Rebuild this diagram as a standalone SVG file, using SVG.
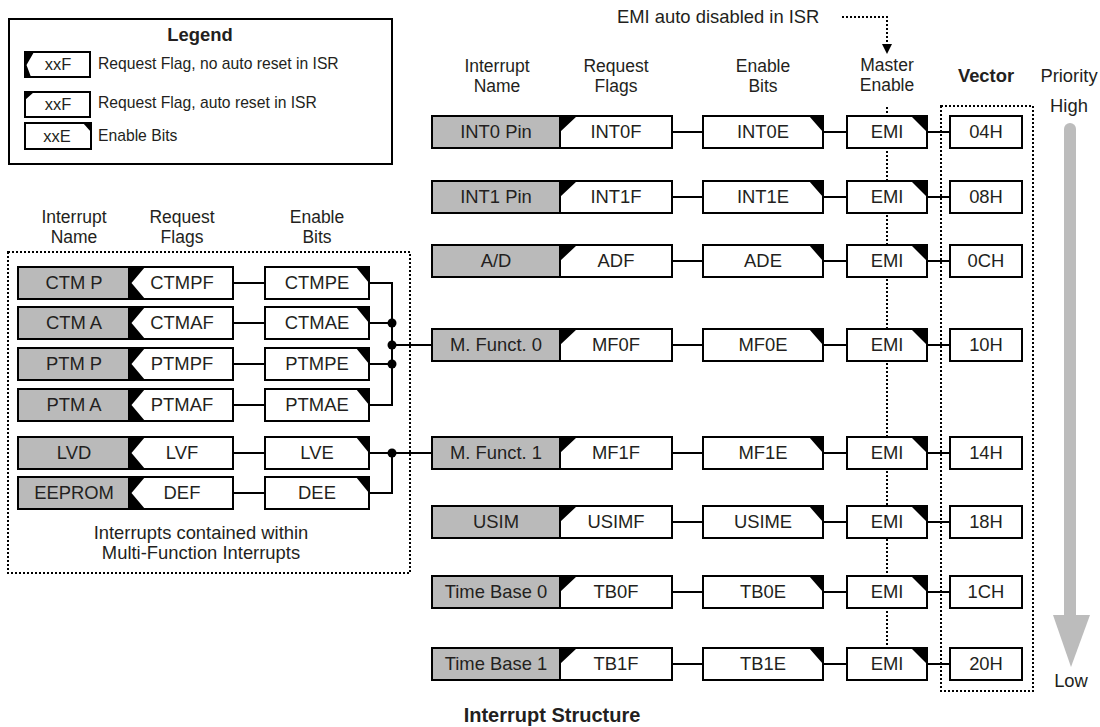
<svg xmlns="http://www.w3.org/2000/svg" width="1100" height="727" viewBox="0 0 1100 727">
<style>
.t{font-family:"Liberation Sans",Arial,sans-serif;font-size:18.4px;fill:#231f20;text-anchor:middle}
.h{font-size:17.5px}
.b{font-weight:bold}
.lg{font-size:15.7px;text-anchor:start}
.lb{font-size:16.5px}
.nm{fill:#bababa;stroke:#000;stroke-width:2}
.bx{fill:#fff;stroke:#000;stroke-width:2}
.k{fill:#000}
.ln{fill:none;stroke:#000;stroke-width:2}
.dt{fill:none;stroke:#000;stroke-width:2;stroke-dasharray:2 2}
.jn{fill:#000}
</style>
<rect width="1100" height="727" fill="#fff"/>

<!-- Legend -->
<g id="legend">
<rect x="9" y="19" width="383" height="145" class="bx"/>
<text x="200" y="41" class="t b">Legend</text>
<rect x="25" y="52" width="65" height="25" class="bx"/>
<polygon points="25,52 34,52 26.5,65 31,77 25,77" class="k"/>
<text x="58" y="70" class="t lb">xxF</text>
<text x="98" y="69" class="t lg">Request Flag, no auto reset in ISR</text>
<rect x="25" y="92" width="65" height="25" class="bx"/>
<polygon points="25,92 34,92 25,100" class="k"/>
<text x="58" y="110" class="t lb">xxF</text>
<text x="98" y="108" class="t lg">Request Flag, auto reset in ISR</text>
<rect x="25" y="123" width="66" height="26" class="bx"/>
<polygon points="83,123 91,123 91,132" class="k"/>
<text x="57" y="142" class="t lb">xxE</text>
<text x="98" y="141" class="t lg">Enable Bits</text>
</g>

<!-- Headers -->
<g id="headers">
<text x="74" y="223" class="t h">Interrupt</text><text x="74" y="243" class="t h">Name</text>
<text x="182" y="223" class="t h">Request</text><text x="182" y="243" class="t h">Flags</text>
<text x="317" y="223" class="t h">Enable</text><text x="317" y="243" class="t h">Bits</text>
<text x="497" y="72" class="t h">Interrupt</text><text x="497" y="92" class="t h">Name</text>
<text x="616" y="72" class="t h">Request</text><text x="616" y="92" class="t h">Flags</text>
<text x="763" y="72" class="t h">Enable</text><text x="763" y="92" class="t h">Bits</text>
<text x="887" y="71" class="t h">Master</text><text x="887" y="91" class="t h">Enable</text>
<text x="986" y="82" class="t b">Vector</text>
<text x="1069" y="82" class="t">Priority</text>
<text x="1069" y="112" class="t">High</text>
<text x="1071" y="687" class="t">Low</text>
<text x="617" y="23" class="t" style="text-anchor:start">EMI auto disabled in ISR</text>
<text x="201" y="539" class="t">Interrupts contained within</text>
<text x="201" y="559" class="t">Multi-Function Interrupts</text>
<text x="552" y="722" class="t b" style="font-size:20px">Interrupt Structure</text>
</g>

<!-- Dotted frames and priority arrow -->
<g id="frames">
<rect x="8" y="252" width="402" height="321" class="dt"/>
<rect x="941" y="106" width="92" height="585" class="dt"/>
<line x1="887" y1="107" x2="887" y2="648" class="dt"/>
<path d="M842,17 H887 V45" class="dt"/>
<polygon points="882,44 892,44 887,54" class="k"/>
<line x1="1070" y1="129" x2="1070" y2="616" stroke="#bcbcbc" stroke-width="12" stroke-linecap="round"/>
<polygon points="1053,615 1090,615 1071,667" fill="#bcbcbc"/>
</g>

<!-- Connectors -->
<g id="connectors">
<path d="M233,283 H265 M233,323 H265 M233,364 H265 M233,405 H265 M233,453 H265 M233,493 H265" class="ln"/>
<path d="M369,283 H392 V405 H369 M369,323 H392 M369,364 H392 M392,345 H432" class="ln"/>
<path d="M369,453 H432 M392,453 V493 H369" class="ln"/>
<circle cx="392" cy="323" r="4.5" class="jn"/>
<circle cx="392" cy="345" r="4.5" class="jn"/>
<circle cx="392" cy="364" r="4.5" class="jn"/>
<circle cx="392" cy="453" r="4.5" class="jn"/>
<path d="M672,132 H703 M823,132 H847 M927,132 H950
M672,197 H703 M823,197 H847 M927,197 H950
M672,261 H703 M823,261 H847 M927,261 H950
M672,345 H703 M823,345 H847 M927,345 H950
M672,453 H703 M823,453 H847 M927,453 H950
M672,522 H703 M823,522 H847 M927,522 H950
M672,592 H703 M823,592 H847 M927,592 H950
M672,664 H703 M823,664 H847 M927,664 H950" class="ln"/>
</g>

<!-- Left block nodes -->
<g id="ctmp">
<rect x="18" y="267" width="111" height="32" class="nm"/><text x="74" y="289" class="t">CTM P</text>
<rect x="129" y="267" width="104" height="32" class="bx"/><polygon points="129,267 145,267 131.5,283 145,299 129,299" class="k"/><text x="182" y="289" class="t">CTMPF</text>
<rect x="265" y="267" width="104" height="32" class="bx"/><polygon points="356,267 369,267 369,283" class="k"/><text x="317" y="289" class="t">CTMPE</text>
</g>
<g id="ctma">
<rect x="18" y="307" width="111" height="32" class="nm"/><text x="74" y="329" class="t">CTM A</text>
<rect x="129" y="307" width="104" height="32" class="bx"/><polygon points="129,307 145,307 131.5,323 145,339 129,339" class="k"/><text x="182" y="329" class="t">CTMAF</text>
<rect x="265" y="307" width="104" height="32" class="bx"/><polygon points="356,307 369,307 369,323" class="k"/><text x="317" y="329" class="t">CTMAE</text>
</g>
<g id="ptmp">
<rect x="18" y="348" width="111" height="32" class="nm"/><text x="74" y="370" class="t">PTM P</text>
<rect x="129" y="348" width="104" height="32" class="bx"/><polygon points="129,348 145,348 131.5,364 145,380 129,380" class="k"/><text x="182" y="370" class="t">PTMPF</text>
<rect x="265" y="348" width="104" height="32" class="bx"/><polygon points="356,348 369,348 369,364" class="k"/><text x="317" y="370" class="t">PTMPE</text>
</g>
<g id="ptma">
<rect x="18" y="389" width="111" height="32" class="nm"/><text x="74" y="411" class="t">PTM A</text>
<rect x="129" y="389" width="104" height="32" class="bx"/><polygon points="129,389 145,389 131.5,405 145,421 129,421" class="k"/><text x="182" y="411" class="t">PTMAF</text>
<rect x="265" y="389" width="104" height="32" class="bx"/><polygon points="356,389 369,389 369,405" class="k"/><text x="317" y="411" class="t">PTMAE</text>
</g>
<g id="lvd">
<rect x="18" y="437" width="111" height="32" class="nm"/><text x="74" y="459" class="t">LVD</text>
<rect x="129" y="437" width="104" height="32" class="bx"/><polygon points="129,437 145,437 131.5,453 145,469 129,469" class="k"/><text x="182" y="459" class="t">LVF</text>
<rect x="265" y="437" width="104" height="32" class="bx"/><polygon points="356,437 369,437 369,453" class="k"/><text x="317" y="459" class="t">LVE</text>
</g>
<g id="eeprom">
<rect x="18" y="477" width="111" height="32" class="nm"/><text x="74" y="499" class="t">EEPROM</text>
<rect x="129" y="477" width="104" height="32" class="bx"/><polygon points="129,477 145,477 131.5,493 145,509 129,509" class="k"/><text x="182" y="499" class="t">DEF</text>
<rect x="265" y="477" width="104" height="32" class="bx"/><polygon points="356,477 369,477 369,493" class="k"/><text x="317" y="499" class="t">DEE</text>
</g>

<!-- Right block nodes -->
<g id="int0">
<rect x="432" y="116" width="128" height="32" class="nm"/><text x="496" y="138" class="t">INT0 Pin</text>
<rect x="560" y="116" width="112" height="32" class="bx"/><polygon points="560,116 577,116 560,132" class="k"/><text x="616" y="138" class="t">INT0F</text>
<rect x="703" y="116" width="120" height="32" class="bx"/><polygon points="809,116 823,116 823,132" class="k"/><text x="763" y="138" class="t">INT0E</text>
<rect x="847" y="116" width="80" height="32" class="bx"/><polygon points="911,116 927,116 927,132" class="k"/><text x="887" y="138" class="t">EMI</text>
<rect x="950" y="116" width="72" height="32" class="bx"/><text x="986" y="138" class="t">04H</text>
</g>
<g id="int1">
<rect x="432" y="181" width="128" height="32" class="nm"/><text x="496" y="203" class="t">INT1 Pin</text>
<rect x="560" y="181" width="112" height="32" class="bx"/><polygon points="560,181 577,181 560,197" class="k"/><text x="616" y="203" class="t">INT1F</text>
<rect x="703" y="181" width="120" height="32" class="bx"/><polygon points="809,181 823,181 823,197" class="k"/><text x="763" y="203" class="t">INT1E</text>
<rect x="847" y="181" width="80" height="32" class="bx"/><polygon points="911,181 927,181 927,197" class="k"/><text x="887" y="203" class="t">EMI</text>
<rect x="950" y="181" width="72" height="32" class="bx"/><text x="986" y="203" class="t">08H</text>
</g>
<g id="ad">
<rect x="432" y="245" width="128" height="32" class="nm"/><text x="496" y="267" class="t">A/D</text>
<rect x="560" y="245" width="112" height="32" class="bx"/><polygon points="560,245 577,245 560,261" class="k"/><text x="616" y="267" class="t">ADF</text>
<rect x="703" y="245" width="120" height="32" class="bx"/><polygon points="809,245 823,245 823,261" class="k"/><text x="763" y="267" class="t">ADE</text>
<rect x="847" y="245" width="80" height="32" class="bx"/><polygon points="911,245 927,245 927,261" class="k"/><text x="887" y="267" class="t">EMI</text>
<rect x="950" y="245" width="72" height="32" class="bx"/><text x="986" y="267" class="t">0CH</text>
</g>
<g id="mf0">
<rect x="432" y="329" width="128" height="32" class="nm"/><text x="496" y="351" class="t">M. Funct. 0</text>
<rect x="560" y="329" width="112" height="32" class="bx"/><polygon points="560,329 577,329 560,345" class="k"/><text x="616" y="351" class="t">MF0F</text>
<rect x="703" y="329" width="120" height="32" class="bx"/><polygon points="809,329 823,329 823,345" class="k"/><text x="763" y="351" class="t">MF0E</text>
<rect x="847" y="329" width="80" height="32" class="bx"/><polygon points="911,329 927,329 927,345" class="k"/><text x="887" y="351" class="t">EMI</text>
<rect x="950" y="329" width="72" height="32" class="bx"/><text x="986" y="351" class="t">10H</text>
</g>
<g id="mf1">
<rect x="432" y="437" width="128" height="32" class="nm"/><text x="496" y="459" class="t">M. Funct. 1</text>
<rect x="560" y="437" width="112" height="32" class="bx"/><polygon points="560,437 577,437 560,453" class="k"/><text x="616" y="459" class="t">MF1F</text>
<rect x="703" y="437" width="120" height="32" class="bx"/><polygon points="809,437 823,437 823,453" class="k"/><text x="763" y="459" class="t">MF1E</text>
<rect x="847" y="437" width="80" height="32" class="bx"/><polygon points="911,437 927,437 927,453" class="k"/><text x="887" y="459" class="t">EMI</text>
<rect x="950" y="437" width="72" height="32" class="bx"/><text x="986" y="459" class="t">14H</text>
</g>
<g id="usim">
<rect x="432" y="506" width="128" height="32" class="nm"/><text x="496" y="528" class="t">USIM</text>
<rect x="560" y="506" width="112" height="32" class="bx"/><polygon points="560,506 577,506 560,522" class="k"/><text x="616" y="528" class="t">USIMF</text>
<rect x="703" y="506" width="120" height="32" class="bx"/><polygon points="809,506 823,506 823,522" class="k"/><text x="763" y="528" class="t">USIME</text>
<rect x="847" y="506" width="80" height="32" class="bx"/><polygon points="911,506 927,506 927,522" class="k"/><text x="887" y="528" class="t">EMI</text>
<rect x="950" y="506" width="72" height="32" class="bx"/><text x="986" y="528" class="t">18H</text>
</g>
<g id="tb0">
<rect x="432" y="576" width="128" height="32" class="nm"/><text x="496" y="598" class="t">Time Base 0</text>
<rect x="560" y="576" width="112" height="32" class="bx"/><polygon points="560,576 577,576 560,592" class="k"/><text x="616" y="598" class="t">TB0F</text>
<rect x="703" y="576" width="120" height="32" class="bx"/><polygon points="809,576 823,576 823,592" class="k"/><text x="763" y="598" class="t">TB0E</text>
<rect x="847" y="576" width="80" height="32" class="bx"/><polygon points="911,576 927,576 927,592" class="k"/><text x="887" y="598" class="t">EMI</text>
<rect x="950" y="576" width="72" height="32" class="bx"/><text x="986" y="598" class="t">1CH</text>
</g>
<g id="tb1">
<rect x="432" y="648" width="128" height="32" class="nm"/><text x="496" y="670" class="t">Time Base 1</text>
<rect x="560" y="648" width="112" height="32" class="bx"/><polygon points="560,648 577,648 560,664" class="k"/><text x="616" y="670" class="t">TB1F</text>
<rect x="703" y="648" width="120" height="32" class="bx"/><polygon points="809,648 823,648 823,664" class="k"/><text x="763" y="670" class="t">TB1E</text>
<rect x="847" y="648" width="80" height="32" class="bx"/><polygon points="911,648 927,648 927,664" class="k"/><text x="887" y="670" class="t">EMI</text>
<rect x="950" y="648" width="72" height="32" class="bx"/><text x="986" y="670" class="t">20H</text>
</g>
</svg>
